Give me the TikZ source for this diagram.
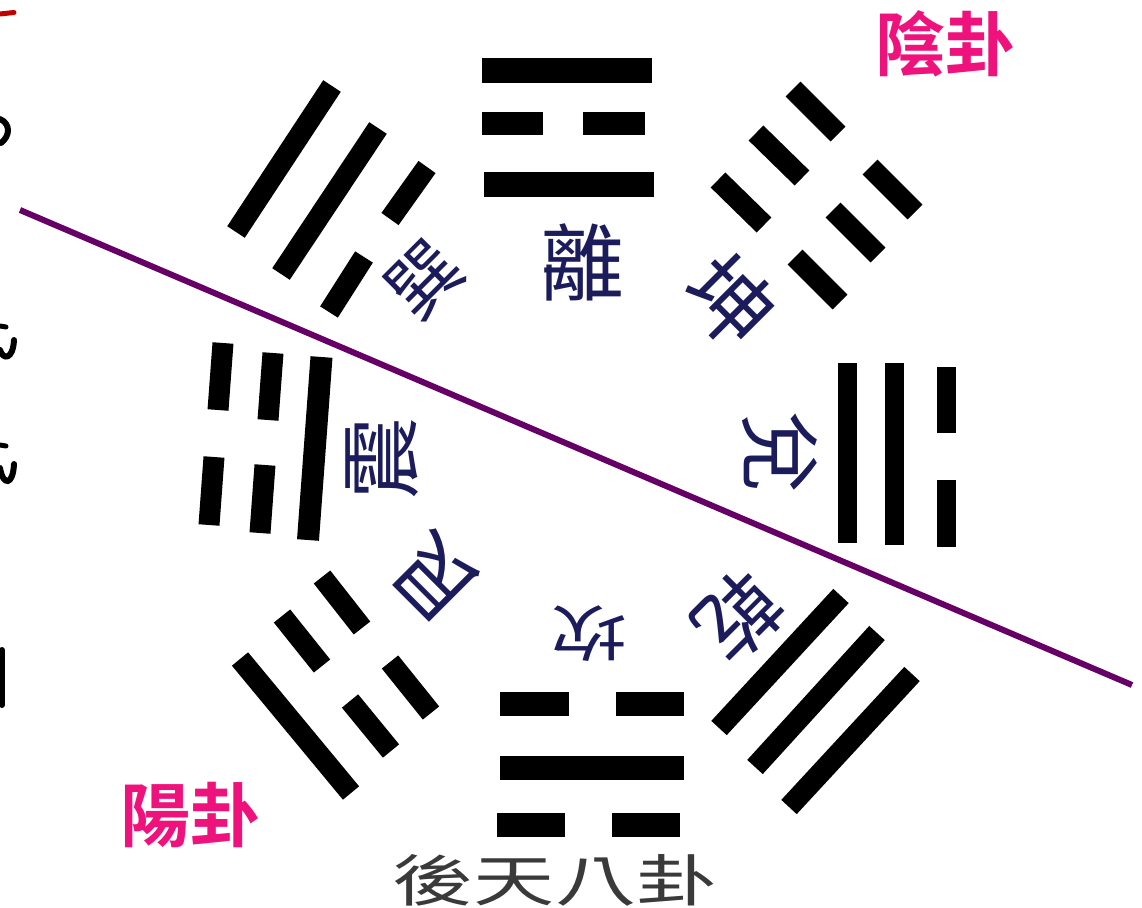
\documentclass[tikz,border=0pt]{standalone}
\usepackage{fontspec}
\newfontfamily\cjk{Noto Sans CJK TC}
\newfontfamily\cjkbold{Noto Sans CJK TC Bold}
\definecolor{navyink}{HTML}{1C1C5C}
\definecolor{hotpink}{HTML}{F0127C}
\definecolor{plumline}{HTML}{660066}
\definecolor{titlegray}{HTML}{3A3A3A}
\definecolor{redstroke}{HTML}{C00000}
\begin{document}
\begin{tikzpicture}[x=1pt,y=-1pt,
  yao/.style={line width=#1, line cap=butt, black},
  yao/.default=21pt,
  gua/.style={font={\cjk\fontsize{#1pt}{#1pt}\selectfont}, text=navyink, inner sep=0pt},
  yinyang/.style={font={\cjkbold\fontsize{70pt}{70pt}\selectfont}, text=hotpink, inner sep=0pt},
  frag/.style={line width=#1, black, line cap=round}
]
\useasboundingbox (0,0) rectangle (1142,907);
\fill[white] (0,0) rectangle (1142,907);

% ---------- Li (top)
\draw[yao=25pt] (482,70.5) -- (652,70.5);
\draw[yao=23pt] (482,123.5) -- (543,123.5);
\draw[yao=23pt] (583,123.5) -- (645,123.5);
\draw[yao=25pt] (484,184.5) -- (654,184.5);
\node[gua=84] (li) at (582,262) {離};

% ---------- Kun (top-right)
\draw[yao] (793,89) -- (838,134);
\draw[yao] (870,167) -- (915,212);
\draw[yao] (756,133) -- (802,178);
\draw[yao] (833,210) -- (878,255);
\draw[yao] (718,180) -- (764,225);
\draw[yao] (795,257) -- (840,302);
\node[gua=86, rotate=-45] (kun) at (730,301) {坤};

% ---------- Dui (right)
\draw[yao=19pt] (847.5,363) -- (847.5,543);
\draw[yao=19pt] (894,363) -- (894,545);
\draw[yao=19pt] (946.5,367) -- (946.5,433);
\draw[yao=19pt] (946.5,480) -- (946.5,547);
\node[gua=82, rotate=-90] (dui) at (780,452) {兌};

% ---------- Qian (bottom-right)
\draw[yao] (841,596) -- (719,728);
\draw[yao] (877,633) -- (755,767);
\draw[yao] (912,674) -- (789,807);
\node[gua=82, rotate=-135] (qian) at (739,617) {乾};

% ---------- Kan (bottom)
\draw[yao=24pt] (500,703.5) -- (569,703.5);
\draw[yao=24pt] (616,703.5) -- (684,703.5);
\draw[yao=24pt] (500,767.5) -- (684,767.5);
\draw[yao=24pt] (497,825) -- (565,825);
\draw[yao=24pt] (612,825) -- (680,825);
\node[gua=76, rotate=180, yscale=0.8] (kan) at (589,634) {坎};

% ---------- Gen (bottom-left)
\draw[yao] (240,659) -- (351,793);
\draw[yao] (282,616) -- (322,666);
\draw[yao] (350,701) -- (391,751);
\draw[yao] (322,577) -- (362,628);
\draw[yao] (390,662) -- (431,713);
\node[gua=82, rotate=135] (gen) at (436,578) {艮};

% ---------- Zhen (left)
\draw[yao] (223,343) -- (218,410);
\draw[yao] (214,457) -- (209,525);
\draw[yao] (273,353) -- (268,420);
\draw[yao] (265,465) -- (260,533);
\draw[yao=22pt] (321.5,357) -- (308,540);
\node[gua=82, rotate=90] (zhen) at (382,458) {震};

% ---------- Xun (top-left)
\draw[yao] (332,86) -- (236,232);
\draw[yao] (378,128) -- (281,274);
\draw[yao] (427,167) -- (390,219);
\draw[yao] (364,257) -- (329,312);
\node[gua=72, rotate=45] (xun) at (424,280) {巽};

% ---------- dividing line
\coordinate (divA) at (20,210);
\coordinate (divB) at (1132,685);
\draw[plumline, line width=6pt] (divA) -- (divB);

% ---------- labels
\node[yinyang] (yin) at (945,44) {陰卦};
\node[yinyang] (yang) at (190,815) {陽卦};
\node[font={\cjk\fontsize{56pt}{56pt}\selectfont}, text=titlegray, inner sep=0pt, xscale=1.45] (title) at (555,880) {後天八卦};

% ---------- cut-off fragments at the left edge
\draw[redstroke, line width=5pt, line cap=round] (0,14) -- (14,12.5);
\draw[frag=6pt] (0,119) .. controls (11,124) and (10,136) .. (1,143);
\draw[frag=5pt] (0,326) -- (6,327);
\draw[frag=6pt] (0,350) .. controls (3,360) and (13,360) .. (14,340);
\draw[frag=5pt] (0,445) -- (6,446);
\draw[frag=6pt] (0,468) .. controls (3,486) and (13,486) .. (14,464);
\draw[frag=6pt] (2,650) -- (2,705);
\end{tikzpicture}
\end{document}
